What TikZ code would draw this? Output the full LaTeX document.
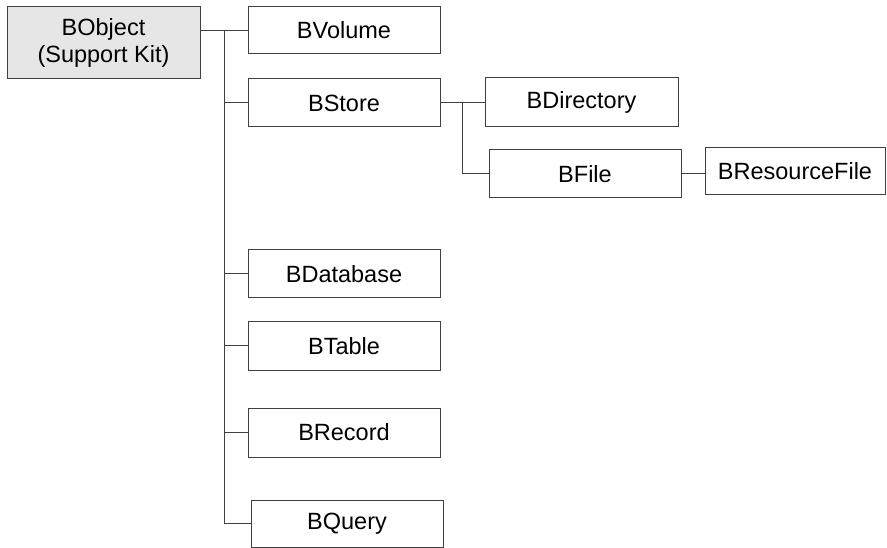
\documentclass[tikz,border=0pt]{standalone}
\usepackage{fontspec}
\setmainfont{Liberation Sans}
\begin{document}
\begin{tikzpicture}[x=1pt,y=-1pt,
  cls/.style={draw=linec, line width=1pt, fill=white, inner sep=0pt, minimum width=192pt, minimum height=48pt, font=\fontsize{23.5}{27}\selectfont, align=center},
  conn/.style={draw=linec, line width=1pt}]
\definecolor{linec}{HTML}{404040}
\definecolor{rootfill}{HTML}{E6E6E6}
\useasboundingbox (0,0) rectangle (887,548);
\node[cls, fill=rootfill, minimum width=193pt, minimum height=72pt] (obj) at (103.5,43) {BObject\\(Support Kit)};
\node[cls, minimum height=47pt] (vol) at (344,30.5) {BVolume};
\node[cls] (store) at (344,103) {BStore};
\node[cls, minimum width=193pt, minimum height=49pt] (dir) at (581.5,102.5) {BDirectory};
\node[cls] (file) at (585,174) {BFile};
\node[cls, minimum width=180pt, minimum height=47pt] (res) at (795,171.5) {BResourceFile};
\node[cls] (db) at (344,274) {BDatabase};
\node[cls] (tab) at (344,346) {BTable};
\node[cls, minimum height=49pt] (rec) at (344,432.5) {BRecord};
\node[cls, minimum height=47pt] (qry) at (347,523.5) {BQuery};
\coordinate (t) at (224,0);
\coordinate (s) at (462,0);
\draw[conn] (vol.west) -- (vol.west -| obj.east);
\draw[conn] (t |- vol.west) -- (t |- qry.west);
\foreach \n in {store,db,tab,rec,qry} \draw[conn] (\n.west) -- (t |- \n.west);
\draw[conn] (store.east) -- (dir.west |- store.east);
\draw[conn] (s |- store.east) -- (s |- file.west) -- (file.west);
\draw[conn] (file.east) -- (file.east -| res.west);
\end{tikzpicture}
\end{document}
